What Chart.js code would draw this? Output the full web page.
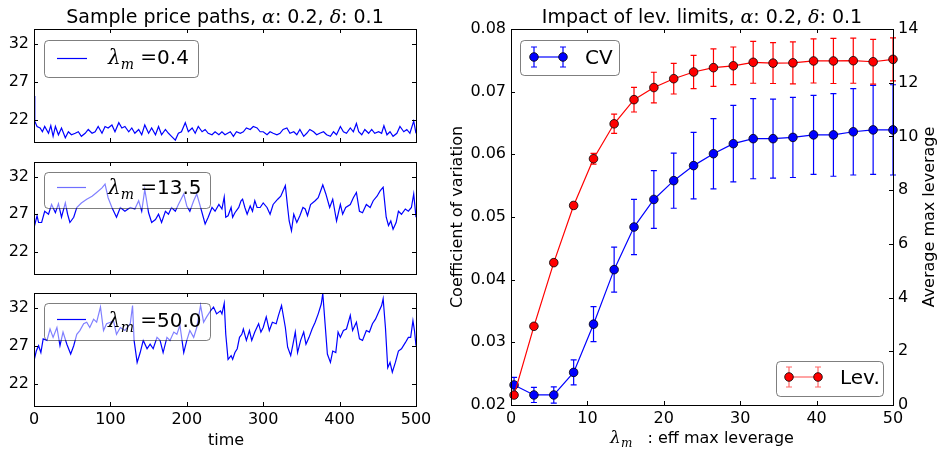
<!DOCTYPE html>
<html>
<head>
<meta charset="utf-8">
<script src="https://cdn.jsdelivr.net/npm/chart.js@4.4.0/dist/chart.umd.min.js"></script>
<style>
  html, body { margin: 0; padding: 0; background: #fff; }
  #wrap { position: relative; width: 941px; height: 452px; }
  #wrap canvas { position: absolute; left: 0; top: 0; }
</style>
</head>
<body>
<div id="wrap">
  <canvas id="p1" width="941" height="452"></canvas>
  <canvas id="p2" width="941" height="452"></canvas>
  <canvas id="p3" width="941" height="452"></canvas>
  <canvas id="lev" width="941" height="452"></canvas>
</div>
<script>
// ---- data: sample price paths ----
const timeTicks = [0, 100, 200, 300, 400, 500];
const priceTicks = [22, 27, 32];

const path1Time = [0,1,4,8,11,14,19,22,25,28,32,36,41,45,49,54,58,62,67,71,76,80,84,89,93,97,102,106,111,115,119,124,128,132,137,141,145,150,154,159,163,167,172,176,180,185,189,193,198,202,207,211,215,220,224,228,233,237,242,246,250,257,261,265,270,274,278,283,287,292,296,300,305,309,313,318,322,326,331,335,340,344,348,353,357,361,366,370,374,379,383,388,392,396,401,405,409,414,418,422,425,429,433,438,442,446,451,455,458,462,466,470,475,479,484,488,492,497,500];
const path1Price = [25.1,21.8,21.1,20.9,20.4,21.1,20.2,21.2,19.8,21.1,20.0,20.9,19.6,20.4,20.0,20.2,20.4,19.8,20.2,20.7,20.2,20.4,21.1,20.2,21.1,20.9,21.3,20.4,21.6,20.9,21.1,20.4,20.9,20.2,20.7,20.0,21.3,20.2,20.9,20.0,21.1,20.0,20.7,20.2,19.8,19.3,20.2,20.4,21.6,20.4,20.9,20.2,21.1,20.4,20.7,20.2,20.0,20.4,20.0,20.4,20.0,20.4,19.8,20.4,20.2,20.4,20.9,20.7,21.1,20.9,20.4,20.4,20.0,20.4,20.2,20.0,20.2,20.7,20.9,20.2,20.4,20.0,20.7,19.8,20.2,20.7,20.4,20.0,20.2,20.4,20.0,19.8,20.4,20.0,21.1,20.4,20.2,20.9,20.4,21.5,20.4,20.0,20.7,20.2,20.7,20.2,20.4,20.2,21.2,20.0,20.4,19.8,20.2,21.1,20.4,20.7,20.2,21.8,20.2];

const path2Time = [0,4,6,10,14,19,23,28,32,36,41,44,47,52,56,62,69,76,82,89,93,97,102,108,113,119,126,132,137,141,145,150,154,159,163,167,172,176,180,185,189,196,200,204,209,213,217,224,228,233,237,242,246,249,251,254,258,260,263,268,271,273,276,279,283,286,289,292,296,300,305,309,313,319,323,329,332,334,337,340,344,348,352,355,358,362,368,372,378,382,387,391,396,401,404,408,414,418,422,426,430,435,440,444,449,453,457,461,464,467,470,474,477,481,486,490,494,497,500];
const path2Price = [25.2,26.8,25.9,25.9,27.4,27.0,28.3,27.2,28.4,26.6,28.5,27.0,25.9,26.6,27.9,28.5,29.0,29.4,29.9,30.5,31.0,29.2,27.9,26.6,27.9,27.4,27.9,27.7,28.8,27.4,30.3,27.2,25.9,26.3,27.0,25.9,27.4,27.0,27.9,27.4,28.3,29.7,28.1,27.4,28.8,29.7,28.3,25.7,26.6,27.9,27.4,28.3,27.7,29.3,26.6,26.8,27.9,26.6,27.2,27.9,28.8,29.0,27.9,27.0,28.1,27.4,28.8,27.9,27.9,28.5,27.9,27.0,28.3,29.0,29.4,30.8,27.9,26.1,24.8,27.0,25.9,26.8,27.9,27.7,26.8,28.3,28.8,29.2,30.9,29.7,27.9,29.0,26.1,28.3,27.0,27.9,28.3,29.2,29.9,27.4,27.2,28.3,27.9,28.8,29.4,30.1,30.6,26.6,25.5,26.1,25.0,25.9,27.4,27.0,27.7,27.4,27.9,29.7,26.6];

const path3Time = [0,3,6,9,12,17,21,25,30,34,38,43,48,52,56,60,65,69,73,78,82,87,91,95,100,104,108,113,119,126,129,131,135,139,143,148,152,156,161,165,169,174,178,183,187,191,196,200,204,209,213,218,222,226,231,235,239,244,246,249,251,254,258,260,263,266,269,272,274,278,282,285,289,294,297,300,304,308,312,317,320,324,329,332,336,339,342,345,349,353,356,360,364,368,372,376,378,381,384,388,391,395,398,401,405,409,414,417,422,426,430,435,439,443,447,451,455,457,460,463,466,469,473,477,481,486,490,493,496,498,500];
const path3Price = [25.0,26.3,27.0,26.1,27.9,27.7,29.2,28.1,29.4,27.0,28.8,27.2,25.9,27.0,28.5,29.0,29.9,30.1,29.4,30.5,30.1,32.1,29.0,29.9,30.1,30.3,28.5,29.4,29.0,29.9,32.3,27.7,24.8,26.1,27.7,26.6,27.2,26.6,28.1,27.7,26.1,28.1,27.7,28.8,28.5,29.7,26.1,27.7,29.0,28.1,29.4,32.3,30.1,30.8,31.6,32.1,31.2,31.6,31.2,32.6,28.5,25.2,25.7,25.2,26.1,26.6,28.1,28.5,29.2,27.7,29.0,27.7,28.8,29.9,28.8,29.4,30.8,29.0,30.1,29.9,31.0,32.3,29.4,26.8,25.7,27.2,28.8,26.1,27.7,28.8,27.2,28.1,29.2,30.1,31.2,32.5,33.9,29.9,25.9,24.8,26.3,26.1,28.8,28.1,29.0,29.2,31.0,29.0,30.1,27.9,27.7,29.0,28.8,29.9,30.5,31.4,32.3,33.2,29.4,24.1,24.8,23.5,24.8,26.3,26.6,27.4,28.1,28.1,30.3,29.0,27.0];

// ---- data: impact of leverage limits ----
const lamValues = [0.4, 3.0, 5.6, 8.2, 10.8, 13.5, 16.1, 18.7, 21.3, 23.9, 26.5, 29.1, 31.7, 34.3, 36.9, 39.6, 42.2, 44.8, 47.4, 50.0];
const cvMean = [0.0232, 0.0216, 0.0216, 0.0252, 0.0329, 0.0416, 0.0484, 0.0528, 0.0558, 0.0582, 0.0601, 0.0617, 0.0625, 0.0625, 0.0627, 0.0631, 0.0631, 0.0636, 0.0639, 0.0639];
const cvErr = [0.0012, 0.0012, 0.0013, 0.0020, 0.0028, 0.0036, 0.0044, 0.0046, 0.0044, 0.0053, 0.0056, 0.0061, 0.0064, 0.0063, 0.0064, 0.0063, 0.0066, 0.0069, 0.0071, 0.0072];
const levMean = [0.37, 2.93, 5.30, 7.43, 9.17, 10.47, 11.37, 11.82, 12.15, 12.40, 12.56, 12.63, 12.76, 12.73, 12.74, 12.81, 12.81, 12.82, 12.78, 12.87];
const levErr = [0.05, 0.05, 0.08, 0.12, 0.20, 0.36, 0.46, 0.57, 0.57, 0.62, 0.70, 0.70, 0.78, 0.76, 0.78, 0.82, 0.84, 0.84, 0.83, 0.80];
const lamTicks = [0, 10, 20, 30, 40, 50];
const cvTicks = [0.02, 0.03, 0.04, 0.05, 0.06, 0.07, 0.08];
const levTicks = [0, 2, 4, 6, 8, 10, 12, 14];

Chart.defaults.font.family = '"DejaVu Sans"';
Chart.defaults.color = '#000';
Chart.defaults.animation = false;

const SANS = s => s + 'px "DejaVu Sans"';
const MATH = s => 'italic ' + s + 'px "DejaVu Serif"';
const SERIF = s => s + 'px "DejaVu Serif"';
const TICK = 16;

function measureRuns(ctx, runs) {
  let w = 0;
  for (const r of runs) { ctx.font = r[1]; w += ctx.measureText(r[0]).width; }
  return w;
}

function drawRuns(ctx, runs, x, y, align) {
  let cx = align === 'center' ? x - measureRuns(ctx, runs) / 2 : x;
  ctx.textAlign = 'left';
  ctx.textBaseline = 'alphabetic';
  ctx.fillStyle = '#000';
  for (const r of runs) {
    ctx.font = r[1];
    ctx.fillText(r[0], cx, y + (r[2] || 0));
    cx += ctx.measureText(r[0]).width;
  }
}

function roundRect(ctx, x, y, w, h, r) {
  ctx.beginPath();
  ctx.moveTo(x + r, y);
  ctx.arcTo(x + w, y, x + w, y + h, r);
  ctx.arcTo(x + w, y + h, x, y + h, r);
  ctx.arcTo(x, y + h, x, y, r);
  ctx.arcTo(x, y, x + w, y, r);
  ctx.closePath();
}

function drawErrSymbol(ctx, x, y, yTop, yBot, color, fill) {
  ctx.strokeStyle = color;
  ctx.beginPath();
  ctx.moveTo(x, yTop); ctx.lineTo(x, yBot);
  ctx.moveTo(x - 3, yTop); ctx.lineTo(x + 3, yTop);
  ctx.moveTo(x - 3, yBot); ctx.lineTo(x + 3, yBot);
  ctx.stroke();
  if (fill) {
    ctx.beginPath();
    ctx.arc(x, y, 4.3, 0, Math.PI * 2);
    ctx.fillStyle = fill; ctx.fill();
    ctx.strokeStyle = '#000'; ctx.lineWidth = 0.8; ctx.stroke();
    ctx.lineWidth = 1.2;
  }
}

// matplotlib-like box with inward ticks
const mplFrame = {
  id: 'mplFrame',
  afterDatasetsDraw(chart, args, opts) {
    const { ctx, chartArea: a } = chart;
    const len = 4;
    ctx.save();
    ctx.strokeStyle = '#000';
    ctx.lineWidth = 1;
    ctx.beginPath();
    (opts.sides || []).forEach(([id, side]) => {
      const s = chart.scales[id];
      s.ticks.forEach(t => {
        const p = Math.round(s.getPixelForValue(t.value)) + 0.5;
        if (side === 'bottom') { ctx.moveTo(p, a.bottom); ctx.lineTo(p, a.bottom - len); }
        if (side === 'top') { ctx.moveTo(p, a.top); ctx.lineTo(p, a.top + len); }
        if (side === 'left') { ctx.moveTo(a.left, p); ctx.lineTo(a.left + len, p); }
        if (side === 'right') { ctx.moveTo(a.right, p); ctx.lineTo(a.right - len, p); }
      });
    });
    ctx.stroke();
    ctx.strokeRect(Math.round(a.left) + 0.5, Math.round(a.top) + 0.5,
      Math.round(a.right - a.left), Math.round(a.bottom - a.top));
    ctx.restore();
  }
};

// error bars drawn under each dataset's markers
const errBars = {
  id: 'errBars',
  beforeDatasetDraw(chart, args) {
    const ds = chart.data.datasets[args.index];
    if (!ds.errors) return;
    const ys = chart.scales[args.meta.yAxisID];
    const ctx = chart.ctx;
    ctx.save();
    ctx.lineWidth = 1.2;
    args.meta.data.forEach((pt, i) => {
      const v = ds.data[i].y, e = ds.errors[i];
      drawErrSymbol(ctx, pt.x, pt.y, ys.getPixelForValue(v + e), ys.getPixelForValue(v - e), ds.borderColor, null);
    });
    ctx.restore();
  }
};

// legend boxes in the matplotlib look
const mplLegend = {
  id: 'mplLegend',
  afterDraw(chart, args, opts) {
    const ctx = chart.ctx;
    (opts.items || []).forEach(L => {
      ctx.save();
      const w = L.w || Math.round(L.textX - L.x + measureRuns(ctx, L.runs) + 10);
      roundRect(ctx, L.x + 0.5, L.y + 0.5, w, L.h, 4);
      ctx.fillStyle = 'rgba(255,255,255,0.5)';
      ctx.fill();
      ctx.strokeStyle = 'rgba(0,0,0,0.5)';
      ctx.lineWidth = 1;
      ctx.stroke();
      ctx.strokeStyle = L.color;
      ctx.lineWidth = 1.2;
      ctx.beginPath();
      ctx.moveTo(L.sx0, L.sy); ctx.lineTo(L.sx1, L.sy);
      ctx.stroke();
      if (L.marker) {
        [L.sx0, L.sx1].forEach(px => drawErrSymbol(ctx, px, L.sy, L.sy - 10, L.sy + 10, L.color, L.marker));
      }
      drawRuns(ctx, L.runs, L.textX, L.base, 'left');
      ctx.restore();
    });
  }
};

// titles and axis labels with math pieces
const mplText = {
  id: 'mplText',
  afterDraw(chart, args, opts) {
    const ctx = chart.ctx;
    (opts.items || []).forEach(it => {
      ctx.save();
      ctx.translate(it.x, it.y);
      if (it.rot) ctx.rotate(it.rot);
      drawRuns(ctx, it.runs, 0, 0, 'center');
      ctx.restore();
    });
  }
};

const lamRuns = (txt) => [['λ', MATH(20)], ['m', MATH(14), 5], [' =', SERIF(20)], [txt, SANS(20)]];
const titleRuns = (head) => [[head, SANS(19)], ['α', MATH(19)], [': 0.2, ', SANS(19)], ['δ', MATH(19)], [': 0.1', SANS(19)]];

function pathChart(canvasId, times, prices, cfg) {
  return new Chart(document.getElementById(canvasId), {
    type: 'line',
    data: {
      datasets: [{
        data: times.map((t, i) => ({ x: t, y: prices[i] })),
        borderColor: '#0000ff',
        borderWidth: 1.2,
        pointRadius: 0,
        tension: 0
      }]
    },
    options: {
      responsive: false,
      layout: { padding: { left: 4, right: 525, top: cfg.top, bottom: cfg.bottom } },
      scales: {
        x: {
          type: 'linear', min: 0, max: 500,
          afterBuildTicks: s => { s.ticks = timeTicks.map(v => ({ value: v })); },
          afterFit: s => { s.height = cfg.showX ? 30 : 0; },
          grid: { display: false, drawTicks: false },
          border: { display: false },
          ticks: { display: cfg.showX, padding: 4, maxRotation: 0, font: { size: TICK } }
        },
        y: {
          type: 'linear', min: 19.05, max: 33.95,
          afterBuildTicks: s => { s.ticks = priceTicks.map(v => ({ value: v })); },
          afterFit: s => { s.width = 30; },
          grid: { display: false, drawTicks: false },
          border: { display: false },
          ticks: { padding: 5, font: { size: TICK } }
        }
      },
      plugins: {
        legend: { display: false },
        tooltip: { enabled: false },
        mplFrame: { sides: [['x', 'bottom'], ['x', 'top'], ['y', 'left'], ['y', 'right']] },
        mplLegend: { items: [cfg.legend] },
        mplText: { items: cfg.texts || [] }
      }
    },
    plugins: [mplFrame, mplLegend, mplText]
  });
}

pathChart('p1', path1Time, path1Price, {
  top: 29, bottom: 310, showX: false,
  legend: { x: 44, y: 40, w: 154, h: 37, sx0: 57, sx1: 87, sy: 58.5, color: '#0000ff', textX: 108, base: 64, runs: lamRuns('0.4') },
  texts: [{ x: 225, y: 23, runs: titleRuns('Sample price paths, ') }]
});
pathChart('p2', path2Time, path2Price, {
  top: 162, bottom: 178, showX: false,
  legend: { x: 44, y: 172, w: 166, h: 36, sx0: 57, sx1: 86, sy: 187.5, color: '#6f6fff', textX: 108, base: 194, runs: lamRuns('13.5') }
});
pathChart('p3', path3Time, path3Price, {
  top: 293, bottom: 16, showX: true,
  legend: { x: 44, y: 303, w: 166, h: 37, sx0: 57, sx1: 86, sy: 319.5, color: '#0000ff', textX: 108, base: 327, runs: lamRuns('50.0') },
  texts: [{ x: 226, y: 445, runs: [['time', SANS(16)]] }]
});

// right panel: CV and average max leverage with error bars
new Chart(document.getElementById('lev'), {
  type: 'line',
  data: {
    datasets: [
      {
        label: 'Lev.',
        data: lamValues.map((x, i) => ({ x, y: levMean[i] })),
        errors: levErr,
        yAxisID: 'y2',
        borderColor: '#ff0000',
        backgroundColor: '#ff0000',
        borderWidth: 1.2,
        pointRadius: 4.3,
        pointBorderColor: '#000',
        pointBorderWidth: 0.8,
        tension: 0,
        clip: false,
        order: 1
      },
      {
        label: 'CV',
        data: lamValues.map((x, i) => ({ x, y: cvMean[i] })),
        errors: cvErr,
        yAxisID: 'y',
        borderColor: '#0000ff',
        backgroundColor: '#0000ff',
        borderWidth: 1.2,
        pointRadius: 4.3,
        pointBorderColor: '#000',
        pointBorderWidth: 0.8,
        tension: 0,
        clip: false,
        order: 2
      }
    ]
  },
  options: {
    responsive: false,
    layout: { padding: { left: 451, right: 8, top: 29, bottom: 17 } },
    scales: {
      x: {
        type: 'linear', min: 0, max: 50,
        afterBuildTicks: s => { s.ticks = lamTicks.map(v => ({ value: v })); },
        afterFit: s => { s.height = 30; },
        grid: { display: false, drawTicks: false },
        border: { display: false },
        ticks: { padding: 4, maxRotation: 0, font: { size: TICK } }
      },
      y: {
        type: 'linear', position: 'left', min: 0.02, max: 0.08,
        afterBuildTicks: s => { s.ticks = cvTicks.map(v => ({ value: v })); },
        afterFit: s => { s.width = 60; },
        grid: { display: false, drawTicks: false },
        border: { display: false },
        ticks: { padding: 5, font: { size: TICK }, callback: v => v.toFixed(2) }
      },
      y2: {
        type: 'linear', position: 'right', min: 0, max: 14,
        afterBuildTicks: s => { s.ticks = levTicks.map(v => ({ value: v })); },
        afterFit: s => { s.width = 40; },
        grid: { display: false, drawTicks: false },
        border: { display: false },
        ticks: { padding: 5, font: { size: TICK } }
      }
    },
    plugins: {
      legend: { display: false },
      tooltip: { enabled: false },
      mplFrame: { sides: [['x', 'bottom'], ['x', 'top'], ['y', 'left'], ['y2', 'right']] },
      mplLegend: {
        items: [
          { x: 520, y: 40, w: 99, h: 35, sx0: 534, sx1: 563, sy: 57, color: '#0000ff', marker: '#0000ff', textX: 585, base: 64, runs: [['CV', SANS(20)]] },
          { x: 776, y: 361, w: 107, h: 35, sx0: 789, sx1: 818, sy: 377, color: 'rgba(255,0,0,0.6)', marker: '#ff0000', textX: 840, base: 384, runs: [['Lev.', SANS(20)]] }
        ]
      },
      mplText: {
        items: [
          { x: 702, y: 23, runs: titleRuns('Impact of lev. limits, ') },
          { x: 702, y: 443, runs: [['λ', MATH(17)], ['m', MATH(12), 4], ['   : eff max leverage', SANS(16)]] },
          { x: 462, y: 217, rot: -Math.PI / 2, runs: [['Coefficient of variation', SANS(16)]] },
          { x: 934, y: 217, rot: -Math.PI / 2, runs: [['Average max leverage', SANS(16)]] }
        ]
      }
    }
  },
  plugins: [errBars, mplFrame, mplLegend, mplText]
});
</script>
</body>
</html>
